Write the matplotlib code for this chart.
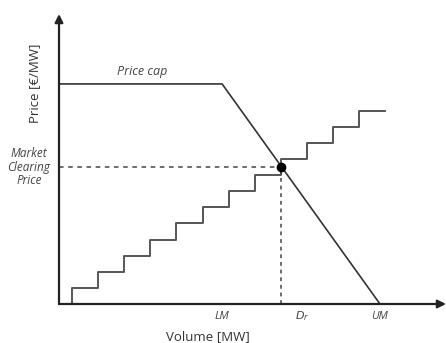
import matplotlib
matplotlib.use("Agg")
import matplotlib.pyplot as plt

plt.rcParams['font.family'] = ['Open Sans', 'DejaVu Sans']

# Supply bid curve (step edges in volume units, price levels)
supply_edges = [0.5, 1.5, 2.5, 3.5, 4.5, 5.5, 6.5, 7.5, 8.5, 9.5, 10.5, 11.5, 12.5]
supply_price = [1, 2, 3, 4, 5, 6, 7, 8, 9, 10, 11, 12]

# Demand curve
demand_vol = [0, 6.25, 12.3]
demand_price = [13.66, 13.66, 0]

# Market clearing point
clear_vol = 8.5
clear_price = 8.5

# Tick labels
tick_pos = [6.25, 9.3, 12.3]
tick_labels = ['LM', r'$D_r$', 'UM']

xmax, ymax = 14.83, 18.0

fig = plt.figure(figsize=(4.46, 3.43), dpi=100)
ax = fig.add_axes([59/446, (343-304)/343, (446-59)/446, (304-14)/343])
ax.set_xlim(0, xmax)
ax.set_ylim(0, ymax)
ax.axis('off')

# axes with arrows
ax.annotate('', xy=(xmax, 0), xytext=(0, 0), annotation_clip=False,
            arrowprops=dict(arrowstyle='-|>', lw=1.6, color='#222222',
                            mutation_scale=12, shrinkA=0, shrinkB=0))
ax.annotate('', xy=(0, ymax), xytext=(0, 0), annotation_clip=False,
            arrowprops=dict(arrowstyle='-|>', lw=1.6, color='#222222',
                            mutation_scale=12, shrinkA=0, shrinkB=0))

# supply steps
xs = [supply_edges[0]] + supply_edges
ys = [0] + supply_price + [supply_price[-1]]
ax.step(xs, ys, where='post', color='#555555', lw=1.4, clip_on=False)

# demand
ax.plot(demand_vol, demand_price, color='#333333', lw=1.2, clip_on=False)

# dashed guides
ax.plot([0, clear_vol], [clear_price, clear_price], color='#444444', lw=1.1,
        linestyle=(0, (3, 3)))
ax.plot([clear_vol, clear_vol], [0, clear_price], color='#444444', lw=1.1,
        linestyle=(0, (2.5, 2.5)))
ax.plot([clear_vol], [clear_price], 'o', color='black', markersize=6, zorder=5)

# texts
ax.text(3.18, 14.4, 'Price cap', style='italic', fontsize=9, color='#444444',
        ha='center', va='center')
fig.text(29/446, 1 - 167/343, 'Market\nClearing\nPrice', style='italic',
         fontsize=8.5, color='#444444', ha='center', va='center', linespacing=1.05)
for p, l in zip(tick_pos, tick_labels):
    ax.text(p, -0.75, l, style='italic', fontsize=8, color='#444444',
            ha='center', va='center')
fig.text(208/446, 1 - 337/343, 'Volume [MW]', fontsize=9.5, color='#333333',
         ha='center', va='center')
fig.text(35/446, 1 - 83/343, 'Price [€/MW]', fontsize=9.5, color='#333333',
         ha='center', va='center', rotation=90)

fig.savefig('out.png', dpi=100)
